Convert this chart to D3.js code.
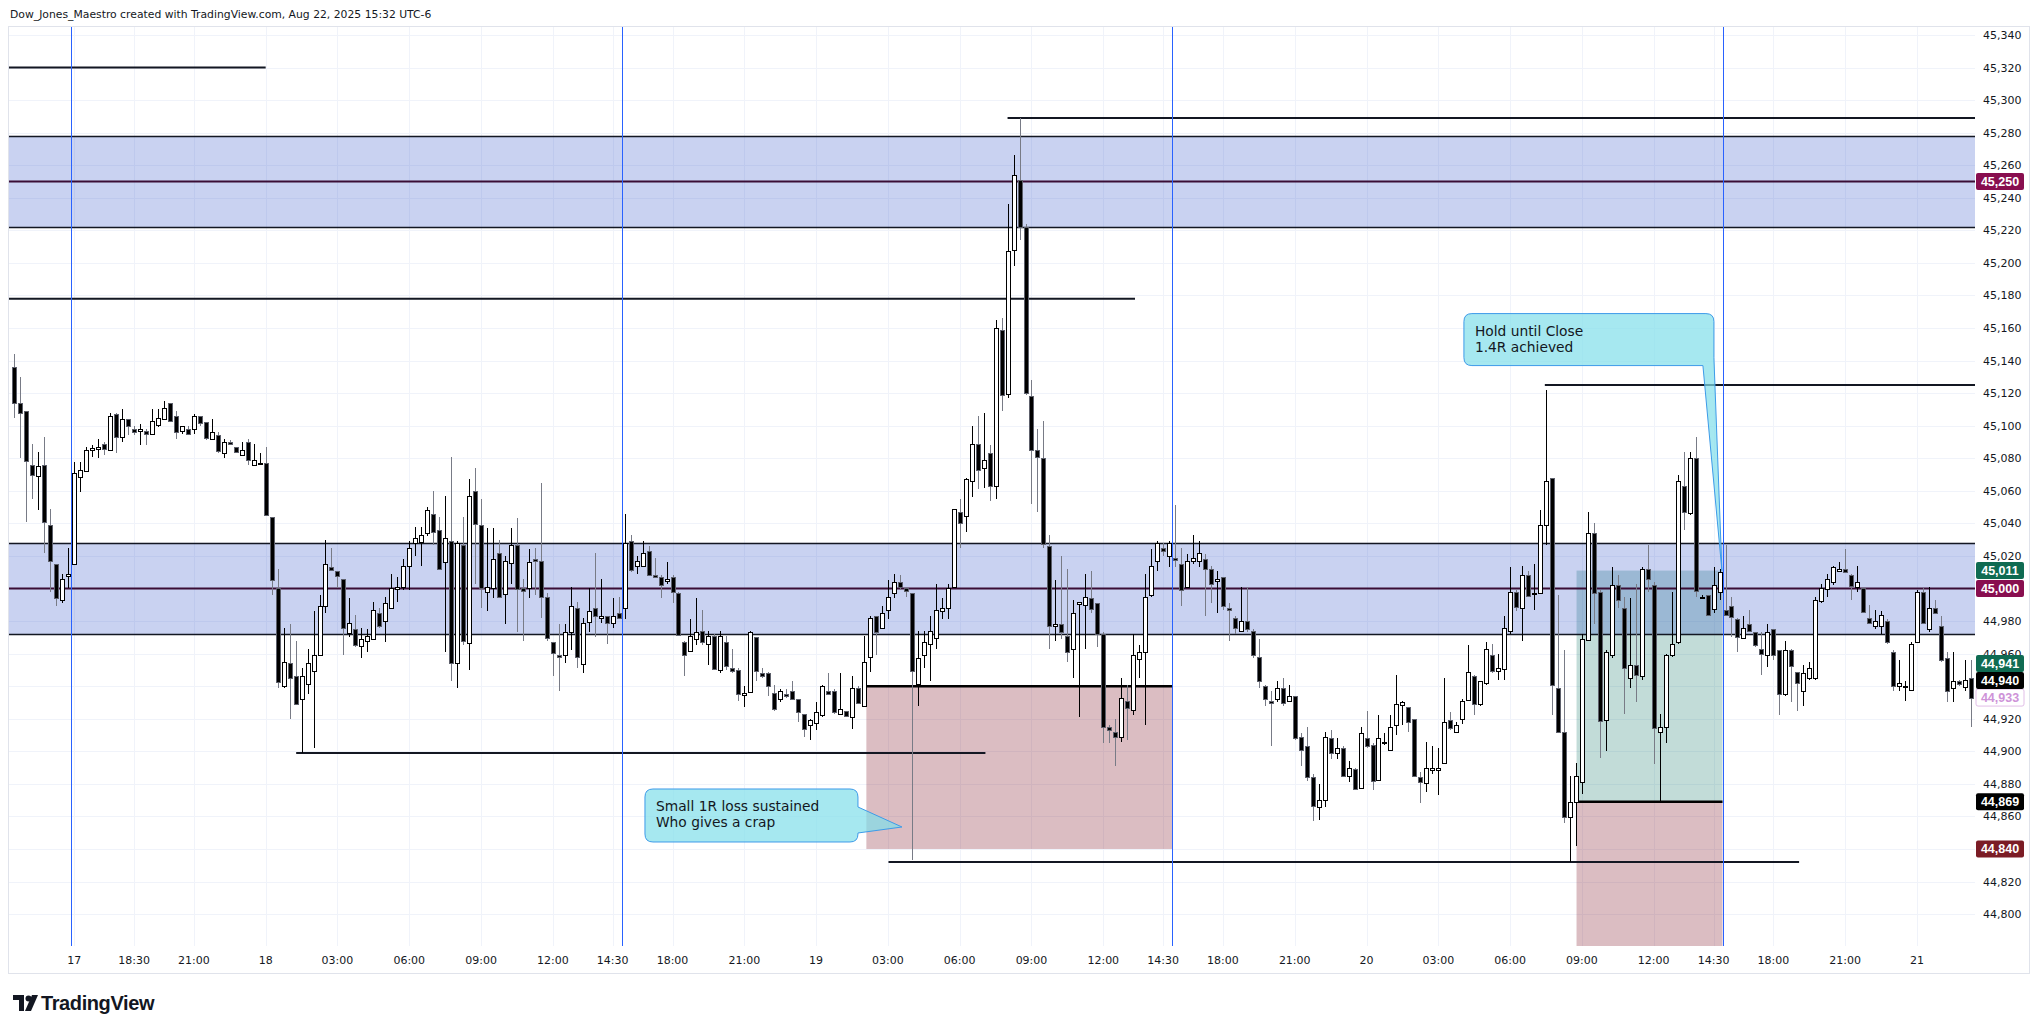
<!DOCTYPE html>
<html>
<head>
<meta charset="utf-8">
<script src="https://cdn.jsdelivr.net/npm/d3@7"></script>
<style>
  body { margin: 0; background: #fff; }
  svg { display: block; font-family: "DejaVu Sans", sans-serif; }
</style>
</head>
<body>
<svg id="chart" width="2039" height="1033"></svg>
<script>
// ── 15-minute YM bars, bar 0 = Fri 12:30 (UTC-6) ──
const OPEN = [45136,45114,45109,45076,45069,45076,45039,45015,44993,45008,45015,45069,45072,45085,45086,45089,45085,45107,45093,45104,
45098,45097,45097,45095,45101,45104,45114,45106,45097,45098,45098,45106,45102,45092,45094,45083,45090,45087,45082,45090,
45076,45077,45077,45044,45000,44940,44954,44946,44932,44941,44949,44959,44989,45013,45011,45006,44973,44975,44965,44968,
44969,44985,44980,44988,45000,45001,45014,45028,45029,45034,45046,45036,45016,45029,44954,45027,44967,45060,45039,44998,
45000,45022,44997,45016,45027,45000,45000,45018,45017,44995,44967,44959,44959,44973,44988,44954,44979,44988,44982,44983,
44979,44985,44988,45029,45014,45014,45023,45008,45007,45005,45007,44997,44967,44962,44969,44974,44966,44971,44950,44967,
44951,44950,44935,44936,44970,44948,44948,44936,44932,44935,44937,44932,44923,44916,44917,44922,44937,44937,44923,44925,
44921,44939,44928,44958,44983,44976,44987,44997,45004,45000,44997,44941,44959,44966,44970,44986,44988,45001,45047,45044,
45066,45089,45074,45083,45063,45159,45119,45208,45251,45222,45118,45085,45080,45026,44977,44978,44971,44963,44991,44990,
44994,44991,44972,44915,44912,44909,44931,44925,44957,44961,44996,45017,45025,45020,45019,45015,45001,45017,45017,45018,
45012,45005,45007,44988,44982,44974,44980,44974,44958,44940,44931,44932,44939,44931,44934,44909,44903,44884,44866,44870,
44908,44899,44902,44885,44889,44877,44908,44904,44882,44906,44901,44916,44928,44927,44920,44884,44881,44889,44889,44893,
44919,44912,44920,44932,44946,44929,44942,44959,44949,44951,44974,44998,44988,45008,44997,44997,45039,45068,44939,44912,
44860,44869,44881,44968,45034,44998,44919,44959,45002,44988,44945,44953,44946,45012,45002,44912,44915,44959,44967,45063,
45046,45080,44995,44996,44987,44998,44987,44989,44981,44970,44978,44973,44963,44959,44975,44962,44935,44962,44949,44937,
44945,44945,44992,45000,45004,45011,45012,45008,45001,45000,44982,44977,44977,44980,44961,44940,44940,44938,44967,44998,
44975,44988,44977,44957,44939,44943,44940,44945];
const HIGH = [45144,45130,45109,45089,45084,45093,45049,45015,45009,45025,45078,45078,45087,45088,45092,45090,45108,45108,45110,45104,
45100,45101,45098,45110,45110,45115,45114,45109,45100,45100,45107,45106,45102,45104,45096,45092,45091,45087,45090,45092,
45089,45083,45087,45044,45012,44976,44978,44968,44951,44963,44986,44996,45030,45025,45011,45006,44994,44984,44976,44975,
44992,44988,44995,45009,45007,45018,45029,45038,45038,45050,45060,45044,45057,45081,45029,45044,45067,45074,45055,45037,
45037,45030,45020,45037,45043,45006,45024,45025,45065,44997,44967,44978,44978,45001,44992,44982,45000,45022,45006,44983,
44994,44995,45046,45033,45020,45029,45026,45019,45008,45016,45008,44998,44968,44981,44994,44987,44974,44972,44974,44971,
44963,44951,44940,44974,44970,44951,44949,44941,44938,44938,44943,44932,44923,44920,44930,44941,44948,44938,44948,44925,
44946,44940,44971,44983,44983,44989,45005,45009,45008,45001,44997,44974,44974,44983,45003,44994,45003,45049,45055,45068,
45100,45106,45108,45088,45165,45166,45236,45266,45289,45224,45128,45098,45103,45033,45005,45020,45012,44993,44992,45009,
45011,44991,44973,44916,44920,44945,44941,44972,44965,45009,45024,45029,45028,45029,45051,45025,45021,45033,45029,45021,
45014,45011,45007,44991,44983,45001,45001,44975,44969,44941,44937,44943,44945,44941,44934,44911,44915,44886,44880,44912,
44913,44908,44903,44894,44890,44915,44925,44905,44922,44911,44922,44947,44931,44927,44920,44887,44906,44903,44902,44945,
44924,44918,44932,44965,44947,44943,44967,44966,44960,44983,45013,44999,45014,45011,45015,45048,45122,45068,44996,44962,
44885,44893,44972,45047,45040,44999,44962,45013,45008,44995,44994,45003,45013,45027,45004,44923,44960,44998,45070,45084,
45084,45093,44996,44996,45013,45012,45027,44995,44982,44983,44987,44973,44973,44978,44975,44962,44968,44963,44949,44953,
44955,44995,45003,45009,45014,45016,45024,45009,45014,45001,44990,44987,44986,44981,44962,44956,44943,44967,44999,45000,
45001,44993,44983,44961,44961,44944,44956,44956];
const LOW = [45105,45080,45041,45055,45048,45022,44998,44989,44991,45000,45015,45059,45072,45081,45080,45082,45085,45083,45090,45094,
45094,45088,45088,45095,45099,45104,45102,45092,45095,45095,45095,45100,45091,45092,45083,45080,45089,45083,45082,45076,
45076,45076,45045,44996,44939,44939,44920,44929,44899,44935,44902,44959,44985,45011,45000,44959,44970,44964,44957,44961,
44969,44976,44967,44988,44992,44999,44999,45020,45014,45032,45027,45012,44961,44943,44939,44965,44950,45003,44988,44986,
44994,44995,44978,45003,44973,44968,44994,44996,44982,44968,44946,44937,44954,44962,44951,44948,44973,44970,44979,44966,
44976,44981,44981,45010,45009,45013,45008,45007,44994,45003,44991,44971,44946,44961,44965,44965,44953,44951,44948,44950,
44948,44931,44927,44936,44943,44945,44934,44925,44930,44933,44932,44918,44909,44907,44913,44921,44935,44923,44923,44922,
44914,44930,44928,44949,44959,44975,44981,44994,44999,44995,44833,44928,44951,44943,44963,44981,44981,45001,45025,45035,
45056,45061,45062,45054,45055,45109,45117,45198,45214,45119,45052,45047,45025,44963,44968,44969,44955,44945,44921,44963,
44985,44964,44905,44905,44891,44906,44907,44922,44945,44916,44995,45011,45020,45013,45013,44989,45000,45015,45013,44983,
44991,44985,44987,44968,44972,44973,44973,44957,44939,44928,44903,44930,44928,44931,44907,44891,44882,44857,44858,44866,
44895,44895,44884,44881,44876,44877,44902,44876,44882,44904,44900,44910,44916,44912,44885,44868,44875,44886,44873,44892,
44913,44912,44917,44931,44922,44928,44941,44948,44944,44944,44972,44986,44968,44995,44987,44997,45027,44922,44912,44856,
44832,44842,44874,44968,44978,44896,44900,44957,44988,44923,44939,44930,44944,44998,44892,44868,44905,44958,44966,45036,
45045,44995,44994,44984,44985,44993,44983,44970,44961,44969,44973,44964,44947,44952,44956,44922,44934,44930,44925,44928,
44944,44944,44991,44995,45002,45010,45010,44993,44998,44985,44978,44975,44972,44966,44937,44937,44931,44938,44967,44979,
44973,44985,44955,44930,44930,44940,44937,44915];
const CLOSE = [45114,45108,45078,45070,45075,45041,45017,44994,45006,45009,45071,45073,45085,45086,45087,45086,45106,45093,45104,45100,
45096,45098,45095,45103,45105,45111,45103,45096,45100,45095,45106,45102,45092,45096,45084,45090,45089,45084,45085,45079,
45079,45077,45045,45005,44942,44955,44945,44929,44946,44954,44959,44989,45015,45011,45008,44976,44979,44965,44969,44971,
44987,44977,44991,45000,45001,45014,45025,45031,45033,45048,45035,45012,45031,44954,45028,44968,45057,45040,45000,45001,
45018,44995,45017,45027,45000,44998,45016,45017,44995,44970,44960,44958,44973,44989,44958,44979,44986,44983,44983,44979,
44983,44982,45028,45011,45017,45022,45008,45007,45002,45006,44998,44971,44959,44971,44973,44967,44971,44951,44971,44952,
44949,44935,44936,44973,44949,44946,44940,44926,44937,44934,44932,44924,44914,44919,44924,44940,44935,44924,44926,44922,
44939,44930,44955,44982,44973,44985,44995,45004,45001,44998,44949,44957,44967,44974,44987,44988,45000,45049,45040,45067,
45089,45073,45079,45063,45160,45119,45207,45254,45222,45120,45085,45081,45027,44977,44978,44973,44961,44985,44992,44995,
44987,44972,44915,44913,44909,44933,44927,44959,44961,44995,45014,45028,45023,45028,45018,44999,45017,45019,45022,45012,
45003,45006,44989,44987,44976,44980,44975,44959,44943,44932,44930,44939,44930,44934,44908,44901,44884,44866,44870,44909,
44899,44902,44885,44890,44877,44911,44903,44882,44908,44906,44915,44929,44930,44918,44885,44881,44890,44890,44890,44918,
44914,44916,44931,44949,44929,44943,44963,44949,44951,44976,44998,44989,45008,44995,44997,45039,45066,44941,44912,44860,
44869,44885,44969,45034,44997,44919,44961,45002,44993,44951,44953,44947,45012,45006,44914,44915,44959,44966,45066,45047,
45080,44998,44995,44984,45002,45010,44984,44982,44970,44976,44974,44965,44960,44973,44959,44935,44962,44952,44942,44948,
44951,44993,45000,45006,45013,45012,45010,45001,45004,44985,44979,44980,44984,44967,44940,44942,44940,44966,44998,44979,
44988,44985,44956,44937,44943,44941,44944,44933];

// time axis: [bar index, label]
const TIME_TICKS = [[10,"17"],[20,"18:30"],[30,"21:00"],[42,"18"],[54,"03:00"],[66,"06:00"],[78,"09:00"],[90,"12:00"],
  [100,"14:30"],[110,"18:00"],[122,"21:00"],[134,"19"],[146,"03:00"],[158,"06:00"],[170,"09:00"],[182,"12:00"],
  [192,"14:30"],[202,"18:00"],[214,"21:00"],[226,"20"],[238,"03:00"],[250,"06:00"],[262,"09:00"],[274,"12:00"],
  [284,"14:30"],[294,"18:00"],[306,"21:00"],[318,"21"]];
const PRICE_TICKS = d3.range(44800, 45341, 20);
const SESSION_BREAKS = [9.5, 101.5, 193.5, 285.5];

// supply/demand zones: centre price, half height
const ZONES = [45250, 45000];
const ZONE_HALF = 28;

// horizontal rays: price, from bar, to bar (null = chart edge)
const LEVELS = [
  { p: 45320, from: null, to: 42 },
  { p: 45289, from: 166, to: null },
  { p: 45178, from: null, to: 187.3 },
  { p: 45125, from: 255.8, to: null },
  { p: 44899, from: 47.1, to: 162.3 },
  { p: 44832, from: 146.1, to: 298.3 },
];

// position tools
const TRADES = [
  { from: 142.4, to: 193.5, entry: 44940, target: null, stop: 44840 },
  { from: 261.1, to: 285.5, entry: 44869, target: 45011, stop: 44768 },
];

// callouts: anchor bar/price and text
const NOTES = [
  { bar: 148.35, p: 44853.5, lines: ["Small 1R loss sustained", "Who gives a crap"], side: "right" },
  { bar: 285.4, p: 45011, lines: ["Hold until Close", "1.4R achieved"], side: "below" },
];

// axis tags: value, background, text colour, border
const TAGS = [
  { v: 45250, bg: "#880e4f", fg: "#fff" },
  { v: 45011, bg: "#0f6b52", fg: "#fff" },
  { v: 45000, bg: "#880e4f", fg: "#fff" },
  { v: 44941, bg: "#0f6b52", fg: "#fff" },
  { v: 44940, bg: "#000000", fg: "#fff" },
  { v: 44933, bg: "#ffffff", fg: "#ce93d8", stroke: "#e1bee7" },
  { v: 44869, bg: "#000000", fg: "#fff" },
  { v: 44840, bg: "#7b1c25", fg: "#fff" },
];

// ── layout ──
const P = { l: 9, t: 27, r: 1975, b: 946 };
const AXIS_R = 2029, AXIS_B = 973;

const svg = d3.select("#chart");

const x = d3.scaleLinear().domain([-0.9, 327.7]).range([P.l, P.r]);
const y = d3.scaleLinear().domain([44780.4, 45344.9]).range([P.b, P.t]);
const fmt = d3.format(",");

svg.append("text")
  .attr("x", 10).attr("y", 18)
  .attr("font-size", 10.8).attr("fill", "#131722")
  .text("Dow_Jones_Maestro created with TradingView.com, Aug 22, 2025 15:32 UTC-6");

svg.append("defs").append("clipPath").attr("id", "plot")
  .append("rect").attr("x", P.l).attr("y", P.t).attr("width", P.r - P.l).attr("height", P.b - P.t);

// ── grid ──
const grid = svg.append("g").attr("stroke", "#f0f3fa").attr("stroke-width", 1);
PRICE_TICKS.forEach((v) => {
  const yy = Math.round(y(v)) + 0.5;
  grid.append("line").attr("x1", P.l).attr("x2", P.r).attr("y1", yy).attr("y2", yy);
});
TIME_TICKS.forEach(([i]) => {
  const xx = Math.round(x(i)) + 0.5;
  grid.append("line").attr("x1", xx).attr("x2", xx).attr("y1", P.t).attr("y2", P.b);
});

const plot = svg.append("g").attr("clip-path", "url(#plot)");

// ── position boxes ──
TRADES.forEach((t) => {
  const x0 = x(t.from), x1 = x(t.to);
  if (t.target != null) {
    plot.append("rect")
      .attr("x", x0).attr("width", x1 - x0)
      .attr("y", y(t.target)).attr("height", y(t.entry) - y(t.target))
      .attr("fill", "rgba(0,110,90,0.24)");
  }
  plot.append("rect")
    .attr("x", x0).attr("width", x1 - x0)
    .attr("y", y(t.entry)).attr("height", y(t.stop) - y(t.entry))
    .attr("fill", "rgba(135,35,52,0.3)");
});

// ── zones ──
ZONES.forEach((c) => {
  plot.append("rect")
    .attr("x", P.l).attr("width", P.r - P.l)
    .attr("y", y(c + ZONE_HALF)).attr("height", y(c - ZONE_HALF) - y(c + ZONE_HALF))
    .attr("fill", "rgba(48,80,201,0.26)");
  [c + ZONE_HALF, c - ZONE_HALF].forEach((v) => {
    plot.append("line")
      .attr("x1", P.l).attr("x2", P.r)
      .attr("y1", Math.round(y(v)) + 0.5).attr("y2", Math.round(y(v)) + 0.5)
      .attr("stroke", "#131722").attr("stroke-width", 1.3);
  });
  plot.append("line")
    .attr("x1", P.l).attr("x2", P.r)
    .attr("y1", y(c)).attr("y2", y(c))
    .attr("stroke", "#3a0d35").attr("stroke-width", 2);
});

// ── levels ──
LEVELS.forEach((lv) => {
  plot.append("line")
    .attr("x1", lv.from == null ? P.l : x(lv.from))
    .attr("x2", lv.to == null ? P.r : x(lv.to))
    .attr("y1", y(lv.p)).attr("y2", y(lv.p))
    .attr("stroke", "#131722").attr("stroke-width", 2);
});
TRADES.forEach((t) => {
  plot.append("line")
    .attr("x1", x(t.from)).attr("x2", x(t.to))
    .attr("y1", y(t.entry)).attr("y2", y(t.entry))
    .attr("stroke", "#000").attr("stroke-width", 2.5);
});

// ── session separators ──
SESSION_BREAKS.forEach((b) => {
  const xx = Math.round(x(b)) + 0.5;
  svg.append("line")
    .attr("x1", xx).attr("x2", xx).attr("y1", P.t).attr("y2", P.b)
    .attr("stroke", "#2962ff").attr("stroke-width", 1);
});

// ── candles ──
const bars = d3.range(OPEN.length).map((i) => ({
  i, o: OPEN[i], h: HIGH[i], l: LOW[i], c: CLOSE[i], up: CLOSE[i] >= OPEN[i],
}));
const cg = plot.append("g").attr("shape-rendering", "crispEdges");
cg.selectAll("line.wick").data(bars).join("line")
  .attr("class", "wick")
  .attr("x1", (d) => Math.round(x(d.i)) + 0.5).attr("x2", (d) => Math.round(x(d.i)) + 0.5)
  .attr("y1", (d) => y(d.h)).attr("y2", (d) => y(d.l))
  .attr("stroke", (d) => (d.up ? "#000" : "#787b86"));
cg.selectAll("rect.body").data(bars).join("rect")
  .attr("class", "body")
  .attr("x", (d) => Math.round(x(d.i)) - 1.5)
  .attr("width", 4)
  .attr("y", (d) => Math.round(y(Math.max(d.o, d.c))) + 0.5)
  .attr("height", (d) => Math.max(1, Math.round(Math.abs(y(d.o) - y(d.c)))))
  .attr("fill", (d) => (d.up ? "#fff" : "#000"))
  .attr("stroke", (d) => (d.up ? "#000" : "#5d606b"))
  .attr("stroke-width", 1);

// ── callouts ──
function calloutPath(tx, ty, box, wedge) {
  const { x0, y0, x1, y1 } = box, r = 8;
  if (wedge === "right") {
    return `M${x0 + r},${y0} H${x1 - r} Q${x1},${y0} ${x1},${y0 + r} V${ty - 20} L${tx},${ty} L${x1},${ty + 6}
      V${y1 - r} Q${x1},${y1} ${x1 - r},${y1} H${x0 + r} Q${x0},${y1} ${x0},${y1 - r} V${y0 + r} Q${x0},${y0} ${x0 + r},${y0} Z`;
  }
  return `M${x0 + r},${y0} H${x1 - r} Q${x1},${y0} ${x1},${y0 + r} V${y1 - 8} L${tx},${ty} L${x1 - 11},${y1}
    H${x0 + r} Q${x0},${y1} ${x0},${y1 - r} V${y0 + r} Q${x0},${y0} ${x0 + r},${y0} Z`;
}
NOTES.forEach((n) => {
  const tx = x(n.bar), ty = y(n.p);
  const box = n.side === "right"
    ? { x0: tx - 257, y0: ty - 38, x1: tx - 44, y1: ty + 15 }
    : { x0: tx - 258, y0: ty - 257, x1: tx - 8, y1: ty - 205 };
  svg.append("path")
    .attr("d", calloutPath(tx, ty, box, n.side))
    .attr("fill", "rgba(128,222,234,0.7)")
    .attr("stroke", "#3d9be9").attr("stroke-width", 1);
  n.lines.forEach((ln, k) => {
    svg.append("text")
      .attr("x", box.x0 + 11).attr("y", box.y0 + 22 + k * 16)
      .attr("font-size", 13.8).attr("fill", "#131722")
      .text(ln);
  });
});

// ── frame ──
svg.append("rect")
  .attr("x", P.l - 0.5).attr("y", P.t - 0.5)
  .attr("width", AXIS_R - P.l + 1).attr("height", AXIS_B - P.t + 1)
  .attr("fill", "none").attr("stroke", "#e0e3eb");

// ── price axis ──
const ya = svg.append("g").attr("font-size", 11).attr("fill", "#131722");
PRICE_TICKS.forEach((v) => {
  ya.append("text").attr("x", 1983).attr("y", y(v) + 4).text(fmt(v));
});

// tags, stacked upward when they collide
const tagPos = TAGS.map((t) => ({ ...t, py: y(t.v) })).sort((a, b) => b.py - a.py);
for (let k = 1; k < tagPos.length; k++) {
  if (tagPos[k].py > tagPos[k - 1].py - 17) tagPos[k].py = tagPos[k - 1].py - 17;
}
tagPos.forEach((t) => {
  svg.append("rect")
    .attr("x", 1976).attr("y", t.py - 8.5).attr("width", 48).attr("height", 17).attr("rx", 2)
    .attr("fill", t.bg).attr("stroke", t.stroke || "none");
  svg.append("text")
    .attr("x", 2000).attr("y", t.py + 4.5)
    .attr("text-anchor", "middle")
    .attr("font-family", "'Liberation Sans', sans-serif")
    .attr("font-size", 12.5).attr("font-weight", "bold").attr("fill", t.fg)
    .text(fmt(t.v));
});

// ── time axis ──
const xa = svg.append("g").attr("font-size", 11).attr("fill", "#131722").attr("text-anchor", "middle");
TIME_TICKS.forEach(([i, lab]) => {
  xa.append("text").attr("x", x(i)).attr("y", 964).text(lab);
});

// ── logo ──
const logo = svg.append("g").attr("fill", "#131722");
logo.append("path").attr("d", "M13,995 H24 V1011 H19 V1000 H13 Z");
logo.append("circle").attr("cx", 28.5).attr("cy", 998.5).attr("r", 3);
logo.append("path").attr("d", "M32,995 H38 L31,1011 H25 Z");
logo.append("text")
  .attr("x", 41).attr("y", 1010)
  .attr("font-family", "'Liberation Sans', sans-serif")
  .attr("font-size", 20).attr("font-weight", "bold")
  .attr("letter-spacing", -0.4)
  .text("TradingView");
</script>
</body>
</html>
